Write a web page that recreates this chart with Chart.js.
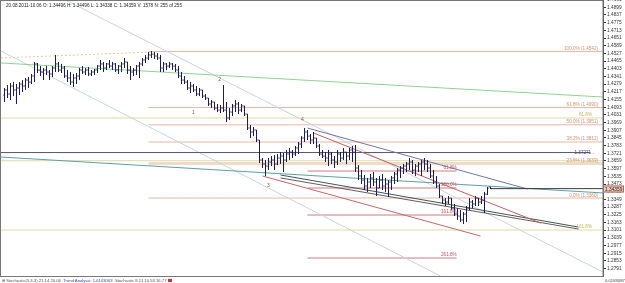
<!DOCTYPE html>
<html>
<head>
<meta charset="utf-8">
<script src="https://cdn.jsdelivr.net/npm/chart.js@4/dist/chart.umd.min.js"></script>
<style>
html, body { margin: 0; padding: 0; background: #fff; }
#wrap { position: relative; width: 625px; height: 283px; overflow: hidden; }
#head { position: absolute; left: 6px; top: 3px; font: 4.6px "Liberation Sans", Arial, sans-serif; color: #222; white-space: pre; }
#status { position: absolute; left: 2px; top: 278px; font: 4.2px "Liberation Sans", Arial, sans-serif; color: #555; white-space: pre; }
#status .lnk { color: #3344bb; }
#status .box { display: inline-block; width: 4px; height: 3px; background: #d03030; vertical-align: middle; }
#corner { position: absolute; left: 605px; top: 278px; font: 4.2px "Liberation Sans", Arial, sans-serif; color: #444; }
</style>
</head>
<body>
<div id="wrap">
<canvas id="chart" width="625" height="283"></canvas>
<div id="head">20.08.2011-10.06 O: 1.34496 H: 1.34496 L: 1.34338 C: 1.34359 V: 1578 N: 255 of 255</div>
<div id="status">&#8862; Stochastic(5,3,3) 21.14 20.06  <span class="lnk">Trend Analysis: 1.6103063</span>  Stochastic 8.11 10.53 16.77 <span class="box"></span></div>
<div id="corner">0.0183087</div>
</div>
<script>
// EURUSD H4 bars, index 0 = first visible bar
var barHigh = [
1.4248,1.4272,1.4288,1.4296,1.4280,1.4296,1.4312,1.4329,1.4337,1.4361,
1.4458,1.4450,1.4425,1.4409,1.4425,1.4393,1.4425,1.4514,1.4458,1.4442,
1.4425,1.4393,1.4377,1.4361,1.4369,1.4409,1.4425,1.4409,1.4417,1.4393,
1.4401,1.4433,1.4474,1.4458,1.4450,1.4474,1.4458,1.4450,1.4433,1.4458,
1.4490,1.4458,1.4425,1.4409,1.4433,1.4458,1.4490,1.4514,1.4538,1.4546,
1.4538,1.4530,1.4514,1.4458,1.4450,1.4458,1.4450,1.4442,1.4425,1.4377,
1.4345,1.4312,1.4296,1.4280,1.4264,1.4248,1.4232,1.4199,1.4167,1.4151,
1.4135,1.4119,1.4111,1.4272,1.4135,1.4086,1.4119,1.4151,1.4135,1.4119,
1.4103,1.4038,1.3949,1.3933,1.3909,1.3828,1.3683,1.3667,1.3683,1.3699,
1.3707,1.3715,1.3731,1.3723,1.3748,1.3764,1.3748,1.3780,1.3812,1.3860,
1.3925,1.3909,1.3877,1.3893,1.3844,1.3796,1.3748,1.3731,1.3748,1.3731,
1.3699,1.3748,1.3731,1.3764,1.3731,1.3764,1.3780,1.3788,1.3626,1.3586,
1.3546,1.3522,1.3554,1.3570,1.3522,1.3538,1.3554,1.3522,1.3505,1.3538,
1.3570,1.3602,1.3618,1.3635,1.3651,1.3683,1.3667,1.3635,1.3651,1.3667,
1.3683,1.3667,1.3635,1.3586,1.3538,1.3473,1.3376,1.3360,1.3376,1.3360,
1.3312,1.3279,1.3263,1.3247,1.3296,1.3360,1.3344,1.3376,1.3360,1.3376,
1.3409,1.3449,1.34496
];
var barLow = [
1.4135,1.4167,1.4151,1.4183,1.4119,1.4191,1.4216,1.4232,1.4248,1.4280,
1.4296,1.4369,1.4345,1.4312,1.4353,1.4312,1.4337,1.4377,1.4377,1.4369,
1.4329,1.4296,1.4272,1.4256,1.4280,1.4312,1.4361,1.4353,1.4345,1.4345,
1.4353,1.4369,1.4393,1.4377,1.4393,1.4409,1.4393,1.4377,1.4361,1.4377,
1.4409,1.4361,1.4312,1.4345,1.4353,1.4329,1.4425,1.4450,1.4474,1.4490,
1.4482,1.4474,1.4377,1.4377,1.4393,1.4409,1.4393,1.4377,1.4329,1.4280,
1.4280,1.4232,1.4207,1.4216,1.4183,1.4183,1.4167,1.4151,1.4103,1.4086,
1.4070,1.4054,1.4046,1.4054,1.3973,1.3990,1.4022,1.4054,1.4038,1.4054,
1.4022,1.3909,1.3844,1.3860,1.3812,1.3643,1.3602,1.3538,1.3586,1.3618,
1.3586,1.3626,1.3635,1.3570,1.3651,1.3667,1.3683,1.3699,1.3715,1.3764,
1.3812,1.3828,1.3796,1.3796,1.3764,1.3699,1.3683,1.3651,1.3618,1.3635,
1.3602,1.3626,1.3651,1.3667,1.3635,1.3667,1.3651,1.3570,1.3505,1.3473,
1.3425,1.3409,1.3441,1.3457,1.3376,1.3441,1.3425,1.3409,1.3368,1.3425,
1.3473,1.3489,1.3522,1.3554,1.3570,1.3586,1.3554,1.3538,1.3570,1.3538,
1.3586,1.3570,1.3522,1.3473,1.3441,1.3360,1.3312,1.3296,1.3312,1.3263,
1.3215,1.3183,1.3166,1.3150,1.3166,1.3263,1.3279,1.3296,1.3296,1.3312,
1.3239,1.3384,1.34338
];
var barOpen = [
1.4191,1.4232,1.4199,1.4264,1.4232,1.4248,1.4280,1.4264,1.4312,1.4296,
1.4345,1.4442,1.4393,1.4377,1.4393,1.4377,1.4361,1.4409,1.4442,1.4393,
1.4409,1.4345,1.4329,1.4296,1.4329,1.4345,1.4393,1.4377,1.4393,1.4361,
1.4377,1.4393,1.4425,1.4442,1.4409,1.4442,1.4425,1.4442,1.4393,1.4425,
1.4442,1.4458,1.4393,1.4377,1.4393,1.4425,1.4442,1.4474,1.4490,1.4514,
1.4522,1.4506,1.4490,1.4409,1.4442,1.4425,1.4442,1.4425,1.4393,1.4345,
1.4312,1.4296,1.4248,1.4264,1.4232,1.4199,1.4232,1.4183,1.4167,1.4119,
1.4135,1.4086,1.4070,1.4086,1.4070,1.4006,1.4054,1.4103,1.4119,1.4070,
1.4103,1.4038,1.3925,1.3893,1.3909,1.3828,1.3667,1.3635,1.3618,1.3651,
1.3667,1.3635,1.3683,1.3699,1.3667,1.3715,1.3731,1.3715,1.3764,1.3796,
1.3844,1.3893,1.3860,1.3828,1.3844,1.3780,1.3715,1.3699,1.3683,1.3715,
1.3667,1.3651,1.3715,1.3683,1.3731,1.3699,1.3748,1.3731,1.3602,1.3538,
1.3505,1.3457,1.3489,1.3522,1.3489,1.3441,1.3505,1.3457,1.3473,1.3489,
1.3522,1.3554,1.3586,1.3602,1.3618,1.3635,1.3651,1.3586,1.3618,1.3635,
1.3651,1.3635,1.3602,1.3538,1.3489,1.3457,1.3376,1.3344,1.3328,1.3360,
1.3279,1.3231,1.3215,1.3183,1.3231,1.3279,1.3328,1.3312,1.3360,1.3328,
1.3344,1.3392,1.34496
];
var barClose = [
1.4232,1.4199,1.4264,1.4232,1.4248,1.4280,1.4264,1.4312,1.4296,1.4345,
1.4442,1.4393,1.4377,1.4393,1.4377,1.4361,1.4409,1.4442,1.4393,1.4409,
1.4345,1.4329,1.4296,1.4329,1.4345,1.4393,1.4377,1.4393,1.4361,1.4377,
1.4393,1.4425,1.4442,1.4409,1.4442,1.4425,1.4442,1.4393,1.4425,1.4442,
1.4458,1.4393,1.4377,1.4393,1.4425,1.4442,1.4474,1.4490,1.4514,1.4522,
1.4506,1.4490,1.4409,1.4442,1.4425,1.4442,1.4425,1.4393,1.4345,1.4312,
1.4296,1.4248,1.4264,1.4232,1.4199,1.4232,1.4183,1.4167,1.4119,1.4135,
1.4086,1.4070,1.4086,1.4070,1.4006,1.4054,1.4103,1.4119,1.4070,1.4103,
1.4038,1.3925,1.3893,1.3909,1.3828,1.3667,1.3635,1.3618,1.3651,1.3667,
1.3635,1.3683,1.3699,1.3667,1.3715,1.3731,1.3715,1.3764,1.3796,1.3844,
1.3893,1.3860,1.3828,1.3844,1.3780,1.3715,1.3699,1.3683,1.3715,1.3667,
1.3651,1.3715,1.3683,1.3731,1.3699,1.3748,1.3731,1.3602,1.3538,1.3505,
1.3457,1.3489,1.3522,1.3489,1.3441,1.3505,1.3457,1.3473,1.3489,1.3522,
1.3554,1.3586,1.3602,1.3618,1.3635,1.3651,1.3586,1.3618,1.3635,1.3651,
1.3635,1.3602,1.3538,1.3489,1.3457,1.3376,1.3344,1.3328,1.3360,1.3279,
1.3231,1.3215,1.3183,1.3231,1.3279,1.3328,1.3312,1.3360,1.3328,1.3344,
1.3392,1.3441,1.34359
];

// price scale labels
var priceTicks = [1.4961,1.4899,1.4837,1.4775,1.4713,1.4651,1.4589,1.4527,1.4465,1.4403,
  1.4341,1.4279,1.4217,1.4155,1.4093,1.4031,1.3969,1.3907,1.3845,1.3783,1.3721,1.3659,
  1.3597,1.3535,1.3473,1.3411,1.3349,1.3287,1.3225,1.3163,1.3101,1.3039,1.2977,1.2915,
  1.2853,1.2791];

// fibo retracement (salmon), drawn from bar 48 to the right edge
var fibLevels = [1.4542, 1.4090, 1.3951, 1.3812, 1.3639, 1.3360];
var fibLabels = ["100.0% (1.4542)", "61.8% (1.4090)", "50.0% (1.3951)", "38.2% (1.3812)", "23.6% (1.3639)", "0.0% (1.3360)"];
// fibo expansion (khaki), full width
var expLevels = [1.4006, 1.3661, 1.3102];
var expLabels = ["61.8%", "", "161.8%"];
// fibo expansion (red), bars 101..151
var redLevels = [1.3578, 1.3441, 1.3223, 1.2876];
var redLabels = ["61.8%", "100.0%", "161.8%", "261.8%"];

// trend lines as [bar index, price] anchors
var dashedTrend = [[-1.2, 1.4490], [48.7, 1.4538]];
var greenTrend = [[-1.2, 1.4450], [199.5, 1.4175]];
var tealTrend = [[-1.2, 1.3691], [199.5, 1.3401]];
var channelUpper = [[20.3, 1.4958], [199.5, 1.2763]];
var channelLower = [[-1.2, 1.4546], [145.3, 1.2731]];
var levelLine = [[-1.2, 1.37271], [195.3, 1.37271]];
var purpleTrend = [[101, 1.3925], [174.3, 1.3433]];
var redTrendA = [[103, 1.3885], [178.7, 1.3158]];
var redTrendB = [[86, 1.3538], [158.7, 1.3053]];
var slateTrendA = [[92, 1.3546], [191.3, 1.3126]];
var slateTrendB = [[92, 1.3522], [191.3, 1.3110]];

// wave labels
var waveText = ["1", "2", "3", "4"];
var waveBar = [63, 71.7, 88, 99.3];
var wavePrice = [1.4046, 1.4312, 1.3457, 1.3990];

var lastBar = barClose.length - 1;
var lastClose = barClose[lastBar];

function seg(points, color, width, dash) {
  return {
    data: points.map(function (p) { return { x: p[0], y: p[1] }; }),
    borderColor: color, borderWidth: width, borderDash: dash || [],
    pointRadius: 0, fill: false, tension: 0
  };
}

var wick = [], openTick = [], closeTick = [];
for (var i = 0; i < barHigh.length; i++) {
  wick.push({ x: i, y: barLow[i] }, { x: i, y: barHigh[i] }, { x: i, y: null });
  openTick.push({ x: i - 0.4, y: barOpen[i] }, { x: i, y: barOpen[i] }, { x: i, y: null });
  closeTick.push({ x: i, y: barClose[i] }, { x: i + 0.4, y: barClose[i] }, { x: i, y: null });
}

var datasets = [];
datasets.push({ data: wick, borderColor: "#1c1c58", borderWidth: 1, pointRadius: 0, spanGaps: false, borderCapStyle: "butt" });
datasets.push({ data: openTick, borderColor: "#1c1c58", borderWidth: 1, pointRadius: 0, spanGaps: false });
datasets.push({ data: closeTick, borderColor: "#1c1c58", borderWidth: 1, pointRadius: 0, spanGaps: false });

datasets.push(seg([[lastBar, lastClose], [199.5, lastClose]], "#3a3a3a", 1));
datasets.push(seg(purpleTrend, "#7474a8", 1));
datasets.push(seg(redTrendA, "#c46060", 1));
datasets.push(seg(redTrendB, "#c46868", 1));
datasets.push(seg(slateTrendA, "#3c5858", 1));
datasets.push(seg(slateTrendB, "#6a5a5a", 1));
datasets.push(seg(levelLine, "#55556e", 1));
datasets.push(seg(tealTrend, "#5f9fa6", 1));
datasets.push(seg(greenTrend, "#8ed48e", 1));
datasets.push(seg(dashedTrend, "#e2c8a0", 1, [2, 2]));
datasets.push(seg(channelUpper, "#c6d6de", 1));
datasets.push(seg(channelLower, "#c6d6de", 1));

redLevels.forEach(function (v) { datasets.push(seg([[101, v], [150.7, v]], "#cf7a80", 1)); });
fibLevels.forEach(function (v, k) {
  datasets.push(seg([[48, v], [199.5, v]], k === 4 ? "#eedccb" : "#e4b8a4", k === 4 ? 3 : 1));
});
expLevels.forEach(function (v) { datasets.push(seg([[-1.2, v], [199.5, v]], "#e2daa6", 1)); });

var notesPlugin = {
  id: "notes",
  afterDraw: function (chart) {
    var ctx = chart.ctx, a = chart.chartArea, xs = chart.scales.x, ys = chart.scales.y;
    ctx.save();
    ctx.font = '4.6px "Liberation Sans", Arial, sans-serif';
    ctx.textBaseline = "bottom";
    ctx.textAlign = "right";
    ctx.fillStyle = "#d08f68";
    fibLevels.forEach(function (v, k) { ctx.fillText(fibLabels[k], 598, ys.getPixelForValue(v) - 0.5); });
    ctx.fillStyle = "#c2b060";
    expLevels.forEach(function (v, k) { if (expLabels[k]) ctx.fillText(expLabels[k], 592, ys.getPixelForValue(v) - 1); });
    ctx.fillStyle = "#c05058";
    redLevels.forEach(function (v, k) { ctx.fillText(redLabels[k], xs.getPixelForValue(150.7), ys.getPixelForValue(v) - 1); });
    ctx.fillStyle = "#45457a";
    ctx.textBaseline = "middle";
    ctx.fillText("1.37271 \u2190", 597, ys.getPixelForValue(levelLine[0][1]));
    ctx.textAlign = "center";
    ctx.fillStyle = "#a84848";
    ctx.font = '5px "Liberation Sans", Arial, sans-serif';
    waveText.forEach(function (t, k) { ctx.fillText(t, xs.getPixelForValue(waveBar[k]), ys.getPixelForValue(wavePrice[k])); });
    // frame
    ctx.strokeStyle = "#777";
    ctx.lineWidth = 1;
    ctx.strokeRect(0.5, 0.5, a.right - 0.5, a.bottom);
    // current price box on the scale
    var py = Math.round(ys.getPixelForValue(lastClose));
    ctx.fillStyle = "#f2cbbd";
    ctx.fillRect(a.right, py - 3.5, 21, 7);
    ctx.strokeStyle = "#b06a58";
    ctx.strokeRect(a.right + 0.5, py - 3, 20, 6);
    ctx.fillStyle = "#222";
    ctx.textAlign = "left";
    ctx.font = '4.8px "Liberation Sans", Arial, sans-serif';
    ctx.fillText(lastClose.toFixed(5), a.right + 2, py + 0.5);
    ctx.restore();
  }
};

new Chart(document.getElementById("chart"), {
  type: "line",
  data: { datasets: datasets },
  options: {
    responsive: false,
    animation: false,
    devicePixelRatio: 1,
    layout: { padding: { left: 1, top: 0, right: 0, bottom: 7 } },
    plugins: { legend: { display: false }, tooltip: { enabled: false } },
    elements: { point: { radius: 0 }, line: { tension: 0 } },
    scales: {
      x: { type: "linear", display: false, min: -7 / 6, max: 199.5 },
      y: {
        position: "right",
        min: 1.2731,
        max: 1.4958,
        afterBuildTicks: function (scale) {
          scale.ticks = priceTicks.map(function (v) { return { value: v }; });
        },
        afterFit: function (scale) {
          scale.width = 22;
          scale.paddingTop = 0;
          scale.paddingBottom = 0;
        },
        ticks: {
          autoSkip: false,
          padding: 1,
          color: "#333",
          font: { family: "Liberation Sans", size: 4.8 },
          callback: function (v) { return v.toFixed(4); }
        },
        grid: { drawOnChartArea: false, drawTicks: true, tickLength: 3, color: "#333" },
        border: { display: true, color: "#555" }
      }
    }
  },
  plugins: [notesPlugin]
});
</script>
</body>
</html>
